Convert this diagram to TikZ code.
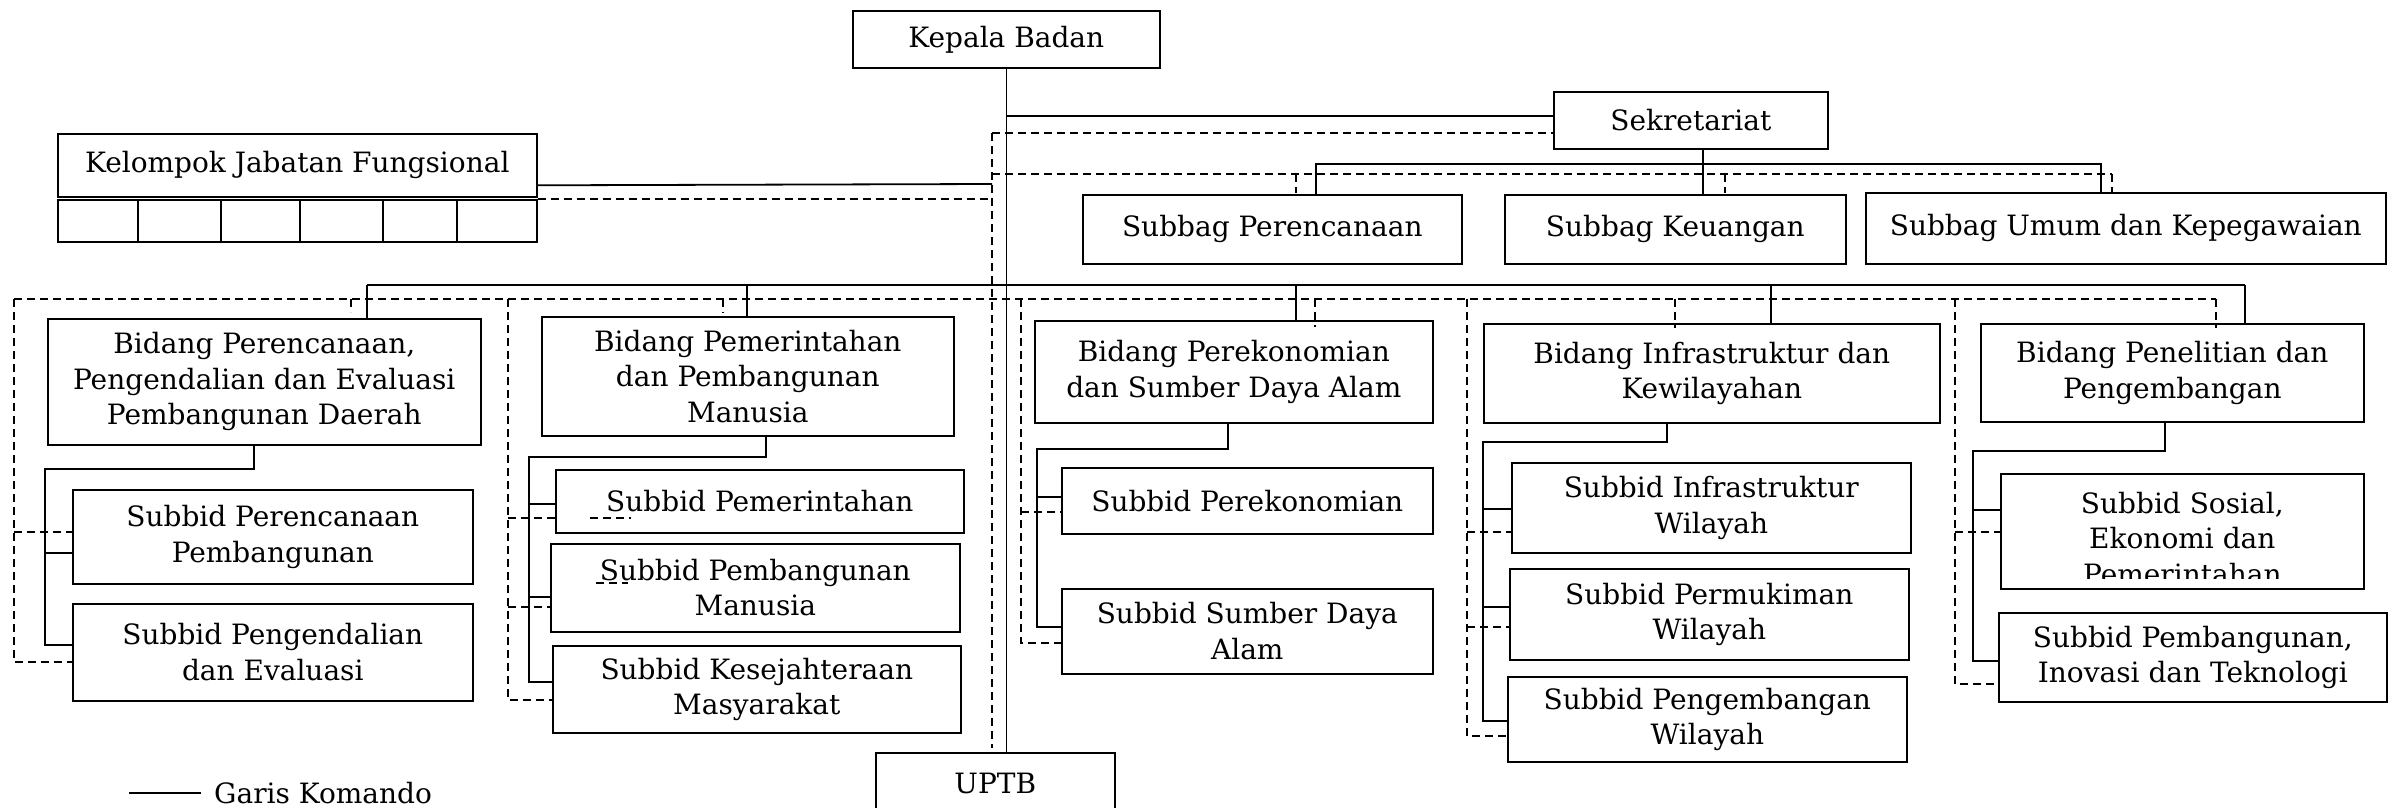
\documentclass[tikz,border=0pt]{standalone}
\usepackage{fontspec}
\setmainfont{DejaVu Serif}

\begin{document}
\begin{tikzpicture}[x=1pt,y=-1pt,
  box/.style={draw=drawColor,line width=1.6pt,anchor=north west,inner sep=0pt,
    align=center,font=\fontsize{28}{35.5}\selectfont},
  komando/.style={draw=drawColor,line width=1.8pt,line join=miter},
  koord/.style={draw=drawColor,line width=1.5pt,dash pattern=on 8pt off 5pt}]
\definecolor{fillColor}{RGB}{255,255,255}
\definecolor{drawColor}{RGB}{0,0,0}
\path[use as bounding box,fill=fillColor] (0,0) rectangle (2395,808);
\begin{scope}
\path[clip] (0,0) rectangle (2395,808);

% pimpinan, sekretariat, jabatan fungsional
\node[box,minimum width=307,minimum height=57] (kepala) at (852,10) {Kepala Badan};
\node[box,minimum width=274,minimum height=57] (sekre) at (1553,91) {Sekretariat};
\node[box,minimum width=479,minimum height=63] (kjf) at (57,133) {Kelompok Jabatan Fungsional};
\node[box,minimum width=479,minimum height=42] (kjfcell) at (57,199) {};
\foreach \x in {138,221,300,383,457}
  \path[draw=drawColor,line width=1.6pt] (\x,199) -- (\x,241);
\node[box,minimum width=379,minimum height=69] (sbPer) at (1082,194) {Subbag Perencanaan};
\node[box,minimum width=341,minimum height=69] (sbKeu) at (1504,194) {Subbag Keuangan};
\node[box,minimum width=520,minimum height=71] (sbUmum) at (1865,192) {Subbag Umum dan Kepegawaian};

% bidang
\node[box,minimum width=433,minimum height=126] (bid1) at (47,318) {Bidang Perencanaan,\\Pengendalian dan Evaluasi\\Pembangunan Daerah};
\node[box,minimum width=412,minimum height=119] (bid2) at (541,316) {Bidang Pemerintahan\\dan Pembangunan\\Manusia};
\node[box,minimum width=398,minimum height=102] (bid3) at (1034,320) {Bidang Perekonomian\\dan Sumber Daya Alam};
\node[box,minimum width=456,minimum height=99] (bid4) at (1483,323) {Bidang Infrastruktur dan\\Kewilayahan};
\node[box,minimum width=383,minimum height=98] (bid5) at (1980,323) {Bidang Penelitian dan\\Pengembangan};

% subbid
\node[box,minimum width=400,minimum height=94] (s11) at (72,489) {Subbid Perencanaan\\Pembangunan};
\node[box,minimum width=400,minimum height=97] (s12) at (72,603) {Subbid Pengendalian\\dan Evaluasi};
\node[box,minimum width=408,minimum height=63] (s21) at (555,469) {Subbid Pemerintahan};
\node[box,minimum width=409,minimum height=88] (s22) at (550,543) {Subbid Pembangunan\\Manusia};
\node[box,minimum width=408,minimum height=87] (s23) at (552,645) {Subbid Kesejahteraan\\Masyarakat};
\node[box,minimum width=371,minimum height=66] (s31) at (1061,467) {Subbid Perekonomian};
\node[box,minimum width=371,minimum height=85] (s32) at (1061,588) {Subbid Sumber Daya\\Alam};
\node[box,minimum width=399,minimum height=90] (s41) at (1511,462) {Subbid Infrastruktur\\Wilayah};
\node[box,minimum width=399,minimum height=91] (s42) at (1509,568) {Subbid Permukiman\\Wilayah};
\node[box,minimum width=399,minimum height=85] (s43) at (1507,676) {Subbid Pengembangan\\Wilayah};
\node[box,minimum width=363,minimum height=115] (s51) at (2000,473) {};
\begin{scope}
\path[clip] (2000,473) rectangle (2363,578);
\node[anchor=north,inner sep=0pt,align=center,font=\fontsize{28}{35.5}\selectfont] at ([yshift=-19pt]s51.north) {Subbid Sosial,\\Ekonomi dan\\Pemerintahan};
\end{scope}
\node[box,minimum width=388,minimum height=89] (s52) at (1998,612) {Subbid Pembangunan,\\Inovasi dan Teknologi};
\node[box,minimum width=239,minimum height=62] (uptb) at (875,752) {UPTB};

% garis komando
\path[komando,line width=1.3pt] (kepala.south) -- (kepala.south |- uptb.north);
\path[komando] (kepala.south |- 0,116) -- (sekre.west |- 0,116);
\path[komando] ([yshift=-20pt]kjf.east) -- (992,184);
\path[komando,line width=1.3pt] (1703,0 |- sekre.south) -- (1703,0 |- sbKeu.north);
\path[komando] (1316,0 |- sbPer.north) -- (1316,164) -- (2101,164) -- (2101,0 |- sbUmum.north);
\path[komando] (367,285) -- (2245,285);
\foreach \x/\n in {367/bid1,747/bid2,1296/bid3,1771/bid4,2245/bid5}
  \path[komando] (\x,285) -- (\x,0 |- \n.north);

\path[komando] (254,0 |- bid1.south) -- (254,469) -| (45,645) -- (45,645 -| s12.west);
\path[komando] (45,553) -- (45,553 -| s11.west);
\path[komando] (766,0 |- bid2.south) -- (766,457) -| (529,682) -- (529,682 -| s23.west);
\path[komando] (529,504) -- (529,504 -| s21.west);
\path[komando] (529,597) -- (529,597 -| s22.west);
\path[komando] (1228,0 |- bid3.south) -- (1228,449) -| (1037,627) -- (1037,627 -| s32.west);
\path[komando] (1037,497) -- (1037,497 -| s31.west);
\path[komando] (1667,0 |- bid4.south) -- (1667,442) -| (1483,721) -- (1483,721 -| s43.west);
\path[komando] (1483,509) -- (1483,509 -| s41.west);
\path[komando] (1483,607) -- (1483,607 -| s42.west);
\path[komando] (2165,0 |- bid5.south) -- (2165,451) -| (1973,661) -- (1973,661 -| s52.west);
\path[komando] (1973,510) -- (1973,510 -| s51.west);

% garis koordinasi
\coordinate (kv) at (992,133);
\path[koord] (kv) -- (992,748);
\path[koord] (kv) -- (kv -| sekre.west);
\path[koord] (kjfcell.north east) -- (kjfcell.north east -| kv);
\path[koord] (992,174) -- (2112,174);
\foreach \x in {1296,1725,2112}
  \path[koord] (\x,174) -- (\x,193);
\path[koord] (14,299) -- (2216,299);
\foreach \x/\y in {351/312,723/313,1315/327,1675/328,2216/328}
  \path[koord] (\x,299) -- (\x,\y);

\path[koord] (14,299) -- (14,662) -- (14,662 -| s12.west);
\path[koord] (14,532) -- (14,532 -| s11.west);
\path[koord] (508,299) -- (508,700) -- (508,700 -| s23.west);
\path[koord] (508,518) -- (508,518 -| s21.west);
\path[koord] (508,607) -- (508,607 -| s22.west);
\path[koord] (590,518) -- (631,518);
\path[koord] (596,583) -- (628,583);
\path[koord] (1021,299) -- (1021,643) -- (1021,643 -| s32.west);
\path[koord] (1021,512) -- (1021,512 -| s31.west);
\path[koord] (1467,299) -- (1467,736) -- (1467,736 -| s43.west);
\path[koord] (1467,532) -- (1467,532 -| s41.west);
\path[koord] (1467,627) -- (1467,627 -| s42.west);
\path[koord] (1955,299) -- (1955,684) -- (1955,684 -| s52.west);
\path[koord] (1955,532) -- (1955,532 -| s51.west);

% keterangan
\node[anchor=west,inner sep=0pt,font=\fontsize{28}{35.5}\selectfont] (legend) at (214,793) {Garis Komando};
\path[komando] ([xshift=-85pt]legend.west) -- ([xshift=-13pt]legend.west);
\end{scope}
\end{tikzpicture}
\end{document}
